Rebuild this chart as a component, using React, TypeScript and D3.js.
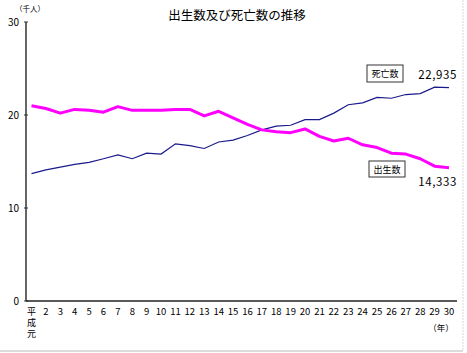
import * as d3 from 'd3';

const years = d3.range(1, 31);
const tickLabels = years.map((y) => (y === 1 ? '平成元' : String(y)));

// 出生数（千人）
const births = [
  21.0, 20.7, 20.2, 20.6, 20.5, 20.3, 20.9, 20.5, 20.5, 20.5,
  20.6, 20.6, 19.9, 20.4, 19.7, 19.0, 18.4, 18.2, 18.1, 18.5,
  17.7, 17.2, 17.5, 16.8, 16.5, 15.9, 15.8, 15.3, 14.5, 14.333,
];

// 死亡数（千人）
const deaths = [
  13.7, 14.1, 14.4, 14.7, 14.9, 15.3, 15.7, 15.3, 15.9, 15.8,
  16.9, 16.7, 16.4, 17.1, 17.3, 17.8, 18.4, 18.8, 18.9, 19.5,
  19.5, 20.2, 21.1, 21.3, 21.9, 21.8, 22.2, 22.3, 23.0, 22.935,
];

const yTicks = [0, 10, 20, 30];

const W = 467;
const H = 353;
const font = '"Noto Sans CJK JP", "Noto Sans", sans-serif';

export default function App() {
  const x = d3.scalePoint<number>().domain(years).range([31.5, 449]);
  const y = d3.scaleLinear().domain([0, 30]).range([301, 22]);
  const axisLeft = 26;
  const axisRight = 457;

  const line = d3
    .line<number>()
    .x((_, i) => x(years[i]) as number)
    .y((d) => y(d));

  const fmt = d3.format(',');

  return (
    <svg
      width={W}
      height={H}
      style={{ position: 'absolute', left: 0, top: 0, background: '#fff' }}
      fontFamily={font}
    >
      <line x1={0} x2={463} y1={351} y2={351} stroke="#cfcfcf" strokeWidth={1.5} />
      <line x1={463} x2={463} y1={0} y2={351} stroke="#d8d8d8" strokeWidth={1} strokeDasharray="2,1" />

      <text x={237} y={20} textAnchor="middle" fontSize={12.5} fill="#000">
        出生数及び死亡数の推移
      </text>
      <text x={30} y={12} textAnchor="middle" fontSize={7.5} fill="#000">
        （千人）
      </text>

      {/* y axis */}
      <line x1={axisLeft} x2={axisLeft} y1={y(30)} y2={y(0)} stroke="#666" strokeWidth={2} />
      {yTicks.map((t) => (
        <g key={t}>
          <line x1={axisLeft - 2} x2={axisLeft + 2} y1={y(t)} y2={y(t)} stroke="#333" />
          <text x={19} y={y(t) + 3.5} textAnchor="end" fontSize={10} fill="#000">
            {t}
          </text>
        </g>
      ))}

      {/* x axis */}
      <line x1={axisLeft} x2={axisRight} y1={y(0)} y2={y(0)} stroke="#222" strokeWidth={1.5} />
      {years.map((yr, i) =>
        yr === 1 ? (
          <text
            key={yr}
            x={x(yr)}
            y={307}
            fontSize={9}
            letterSpacing={2}
            fill="#000"
            style={{ writingMode: 'vertical-rl', textOrientation: 'upright' }}
          >
            {tickLabels[i]}
          </text>
        ) : (
          <text key={yr} x={x(yr)} y={315} textAnchor="middle" fontSize={9.5} fill="#000">
            {tickLabels[i]}
          </text>
        )
      )}
      <text x={441} y={331} textAnchor="middle" fontSize={8.5} fill="#000">
        （年）
      </text>

      {/* series */}
      <path d={line(deaths) ?? ''} fill="none" stroke="#1a1a8c" strokeWidth={1.2} />
      <path d={line(births) ?? ''} fill="none" stroke="#ff00ff" strokeWidth={3} strokeLinejoin="round" />

      {/* labels */}
      <rect x={367} y={65} width={36} height={17} fill="#fff" stroke="#333" />
      <text x={385} y={77} textAnchor="middle" fontSize={9} fill="#000">
        死亡数
      </text>
      <text x={457} y={79} textAnchor="end" fontSize={11.5} letterSpacing={0.6} fill="#000">
        {fmt(deaths[deaths.length - 1] * 1000)}
      </text>

      <rect x={369} y={161} width={36} height={16} fill="#fff" stroke="#333" />
      <text x={387} y={173} textAnchor="middle" fontSize={9} fill="#000">
        出生数
      </text>
      <text x={457} y={186} textAnchor="end" fontSize={11.5} letterSpacing={0.6} fill="#000">
        {fmt(Math.round(births[births.length - 1] * 1000))}
      </text>
    </svg>
  );
}
